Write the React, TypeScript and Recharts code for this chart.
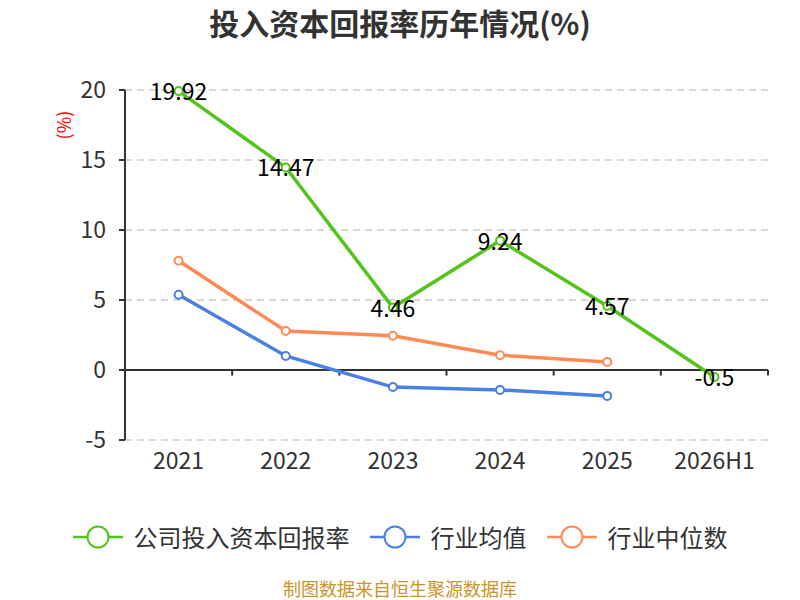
import React from "react";
import {
  LineChart,
  Line,
  XAxis,
  YAxis,
  CartesianGrid,
  ReferenceLine,
  LabelList,
} from "recharts";

const years = ["2021", "2022", "2023", "2024", "2025", "2026H1"];
const companyRoic = [19.92, 14.47, 4.46, 9.24, 4.57, -0.5];
const industryMean = [5.38, 1.0, -1.22, -1.42, -1.85, null];
const industryMedian = [7.8, 2.78, 2.45, 1.06, 0.58, null];
const yTicks = [-5, 0, 5, 10, 15, 20];

const FONT = '"Noto Sans CJK SC", "Noto Sans", sans-serif';

const series = [
  { key: "company", name: "公司投入资本回报率", color: "#52c41a" },
  { key: "mean", name: "行业均值", color: "#4a7fe3" },
  { key: "median", name: "行业中位数", color: "#ff8a55" },
];

const rows = years.map((y, i) => ({
  idx: i,
  year: y,
  company: companyRoic[i],
  mean: industryMean[i],
  median: industryMedian[i],
}));

// boundaries between categories, for the tick marks on the zero line
const bounds = years.concat("").map((_, i) => i - 0.5);

function ValueLabel(props: any) {
  const { x, y, value } = props;
  return (
    <text
      x={x}
      y={y - 1}
      textAnchor="middle"
      dominantBaseline="central"
      fontSize={23}
      fill="#000"
      fontFamily={FONT}
    >
      {value}
    </text>
  );
}

function LegendBox() {
  return (
    <div
      style={{
        position: "absolute",
        top: 519,
        left: 0,
        width: 800,
        display: "flex",
        justifyContent: "center",
        alignItems: "center",
        height: 36,
        fontSize: 24,
        color: "#333",
      }}
    >
      {series.map((s, i) => (
        <div
          key={s.key}
          style={{ display: "flex", alignItems: "center", marginLeft: i ? 20 : 0 }}
        >
          <svg width={50} height={26}>
            <line x1={0} y1={13} x2={50} y2={13} stroke={s.color} strokeWidth={2.5} />
            <circle cx={25} cy={13} r={10.5} fill="#fff" stroke={s.color} strokeWidth={2} />
          </svg>
          <span style={{ marginLeft: 11, lineHeight: "36px" }}>{s.name}</span>
        </div>
      ))}
    </div>
  );
}

export default function App() {
  return (
    <div
      style={{
        position: "absolute",
        left: 0,
        top: 0,
        width: 800,
        height: 600,
        background: "#fff",
        fontFamily: FONT,
      }}
    >
      <div
        style={{
          position: "absolute",
          top: 0,
          width: 800,
          textAlign: "center",
          fontSize: 30,
          lineHeight: "44px",
          fontWeight: "bold",
          color: "#333",
        }}
      >
        投入资本回报率历年情况(%)
      </div>
      <div
        style={{
          position: "absolute",
          left: 48,
          top: 110,
          width: 30,
          height: 30,
          transform: "rotate(-90deg)",
          color: "#f00",
          fontSize: 18,
          lineHeight: "30px",
          textAlign: "center",
        }}
      >
        (%)
      </div>
      <LineChart
        width={800}
        height={600}
        data={rows}
        margin={{ top: 90, right: 32, bottom: 120, left: 0 }}
      >
        <CartesianGrid
          horizontal
          vertical={false}
          stroke="#ccc"
          strokeDasharray="7 5"
          strokeWidth={1.5}
        />
        <XAxis
          dataKey="idx"
          type="number"
          domain={[-0.5, 5.5]}
          ticks={[0, 1, 2, 3, 4, 5]}
          tickFormatter={(v: number) => years[v]}
          axisLine={false}
          tickLine={false}
          tickSize={0}
          tickMargin={13}
          height={40}
          tick={{ fontSize: 23, fill: "#333", fontFamily: FONT }}
        />
        <YAxis
          domain={[-5, 20]}
          ticks={yTicks}
          interval={0}
          width={125}
          axisLine={{ stroke: "#333", strokeWidth: 2 }}
          tickLine={{ stroke: "#333", strokeWidth: 2 }}
          tickSize={6}
          tickMargin={13}
          tick={{ fontSize: 23, fill: "#333", fontFamily: FONT }}
        />
        <ReferenceLine y={0} stroke="#333" strokeWidth={2} />
        {bounds.map((b) => (
          <ReferenceLine
            key={b}
            segment={[
              { x: b, y: 0 },
              { x: b, y: -0.4 },
            ]}
            stroke="#333"
            strokeWidth={2}
          />
        ))}
        {series.map((s) => (
          <Line
            key={s.key}
            dataKey={s.key}
            name={s.name}
            type="linear"
            stroke={s.color}
            strokeWidth={3.5}
            dot={{ r: 4, fill: "#fff", stroke: s.color, strokeWidth: 2 }}
            activeDot={false}
            isAnimationActive={false}
          >
            {s.key === "company" ? (
              <LabelList dataKey="company" content={ValueLabel} />
            ) : null}
          </Line>
        ))}
      </LineChart>
      <LegendBox />
      <div
        style={{
          position: "absolute",
          top: 577,
          width: 800,
          textAlign: "center",
          fontSize: 18,
          lineHeight: "22px",
          color: "#c9952b",
        }}
      >
        制图数据来自恒生聚源数据库
      </div>
    </div>
  );
}
